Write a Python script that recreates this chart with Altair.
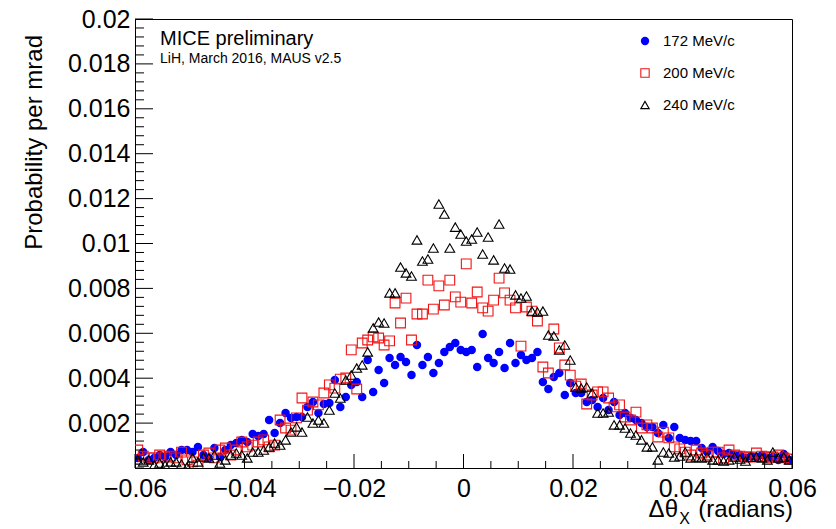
import altair as alt
import numpy as np
import pandas as pd

# bin centres of the 1 mrad histogram bins, -0.06 .. 0.06
x_centers = np.round(np.arange(-0.0595, 0.06, 0.001), 4)

# probability per mrad, in units of 1e-3
p172_e3 = [0.45,0.71,0.36,0.45,0.58,0.49,0.71,0.58,0.80,0.80,
           0.71,0.94,0.58,0.45,0.89,0.49,0.80,1.02,1.11,1.25,
           1.16,1.51,1.43,1.51,2.14,1.56,2.00,2.45,2.23,2.27,
           2.27,2.72,2.94,2.45,2.85,2.90,3.92,2.72,3.16,3.70,
           3.83,3.16,4.81,3.39,4.37,3.79,4.90,4.59,4.94,4.72,
           4.14,5.48,4.59,4.94,4.23,4.68,5.17,5.39,5.57,5.26,
           5.17,5.26,4.50,5.97,4.90,4.68,5.17,4.45,5.57,4.68,
           5.03,4.81,4.90,5.17,3.83,3.52,4.05,4.23,3.25,3.79,
           3.34,3.34,2.94,3.03,2.72,3.12,2.58,2.94,2.36,2.45,
           2.23,2.14,2.00,1.83,1.83,1.56,1.92,1.34,1.83,1.34,
           1.25,1.20,1.20,0.89,0.71,0.94,0.76,0.62,0.67,0.58,
           0.58,0.45,0.53,0.49,0.58,0.45,0.49,0.36,0.62,0.36]

p200_e3 = [0.80,0.53,0.45,0.45,0.58,0.49,0.53,0.45,0.71,0.36,
           0.27,0.13,0.58,0.67,0.45,0.80,0.89,0.58,0.80,1.16,
           0.94,1.02,1.16,1.25,0.94,1.02,2.14,1.78,1.69,2.23,
           3.12,2.58,2.94,2.81,3.34,3.70,3.56,3.96,4.01,5.26,
           3.52,5.57,5.70,5.84,5.79,5.48,5.66,7.35,6.46,7.57,
           5.70,6.86,6.86,8.37,7.08,8.11,7.26,8.37,7.62,7.39,
           9.09,7.35,7.84,7.13,6.99,7.48,8.46,7.80,7.48,7.13,
           5.43,7.17,6.99,6.55,4.50,4.23,6.19,5.35,4.59,4.14,
           3.65,3.74,2.85,3.25,3.39,3.39,3.12,2.72,2.81,2.27,
           2.14,2.49,1.78,1.92,1.78,1.38,1.60,1.34,0.94,0.85,
           0.71,0.58,0.80,0.67,0.58,0.71,0.71,0.45,0.80,0.58,
           0.53,0.49,0.49,0.67,0.53,0.49,0.49,0.58,0.45,0.40]

p240_e3 = [0.36,0.27,0.36,0.13,0.22,0.13,0.27,0.27,0.18,0.04,
           0.45,0.27,0.49,0.45,0.58,0.22,0.36,0.58,0.67,0.58,
           0.45,0.71,0.71,0.80,0.94,1.11,1.02,1.25,1.60,1.83,
           1.60,2.27,2.00,2.14,2.00,2.58,3.34,3.12,3.92,4.14,
           4.45,4.59,5.17,6.24,6.50,6.46,7.80,7.80,8.95,8.69,
           8.55,10.16,9.22,9.31,9.80,11.76,11.31,9.80,10.73,10.42,
           10.11,10.20,10.51,9.53,10.29,9.27,10.87,8.91,8.86,7.71,
           7.57,7.66,6.99,6.95,6.99,5.92,5.88,5.26,5.48,4.81,
           3.61,3.56,3.61,3.34,2.45,2.45,2.49,1.92,1.92,1.78,
           1.56,1.47,1.25,0.94,0.94,0.36,0.71,0.67,0.49,0.53,
           0.71,0.45,0.49,0.45,0.49,0.36,0.36,0.31,0.36,0.49,
           0.40,0.31,0.49,0.49,0.45,0.36,0.71,0.45,0.49,0.36]

series_labels = ["172 MeV/c", "200 MeV/c", "240 MeV/c"]
x_tick_values = [-0.06, -0.04, -0.02, 0.0, 0.02, 0.04, 0.06]
y_tick_values = [0.002, 0.004, 0.006, 0.008, 0.01, 0.012, 0.014, 0.016, 0.018, 0.02]
x_minor_values = [v for v in np.round(np.arange(-0.06, 0.0601, 0.005), 4) if v not in x_tick_values]
y_minor_values = [v for v in np.round(np.arange(0.0, 0.02001, 0.0004), 5) if v not in y_tick_values]

W, H = 657, 449
FONT = "Liberation Sans"

def frame(vals):
    return pd.DataFrame({"x": x_centers, "p": [v * 1e-3 for v in vals]})

xscale = alt.Scale(domain=[-0.06, 0.06], nice=False, zero=False)
yscale = alt.Scale(domain=[0.0, 0.02], nice=False, zero=False)

xaxis = alt.Axis(values=x_tick_values, format=".2~f", labelFontSize=25, labelFont=FONT,
                 labelColor="black", ticks=False, grid=False, title=None, domainColor="black",
                 domainWidth=1, labelPadding=8, labelFlush=False, labelOverlap=False)
yaxis = alt.Axis(values=y_tick_values, format=".3~f", labelFontSize=25, labelFont=FONT,
                 labelColor="black", ticks=False, grid=False, title=None, domainColor="black",
                 domainWidth=1, labelPadding=5, labelFlush=False, labelOverlap=False)

def X(field):
    return alt.X(field, scale=xscale, axis=xaxis)

def Y(field):
    return alt.Y(field, scale=yscale, axis=yaxis)

blue = alt.Chart(frame(p172_e3)).mark_point(
    shape="circle", filled=True, color="#0000ff", size=72, opacity=1, clip=True
).encode(x=X("x:Q"), y=Y("p:Q"))

red = alt.Chart(frame(p200_e3)).mark_point(
    shape="square", filled=False, color="#f01414", size=95, strokeWidth=1.1, opacity=1, clip=True
).encode(x=X("x:Q"), y=Y("p:Q"))

black = alt.Chart(frame(p240_e3)).mark_point(
    shape="triangle-up", filled=False, color="black", size=95, strokeWidth=1.1, opacity=1, clip=True
).encode(x=X("x:Q"), y=Y("p:Q"))

# inward ROOT-style ticks
xt_major = alt.Chart(pd.DataFrame({"x": x_tick_values})).mark_rule(color="black", strokeWidth=1).encode(
    x=X("x:Q"), y=alt.value(H), y2=alt.value(H - 14))
xt_minor = alt.Chart(pd.DataFrame({"x": x_minor_values})).mark_rule(color="black", strokeWidth=1).encode(
    x=X("x:Q"), y=alt.value(H), y2=alt.value(H - 7))
yt_major = alt.Chart(pd.DataFrame({"p": y_tick_values})).mark_rule(color="black", strokeWidth=1).encode(
    y=Y("p:Q"), x=alt.value(0), x2=alt.value(18))
yt_minor = alt.Chart(pd.DataFrame({"p": y_minor_values})).mark_rule(color="black", strokeWidth=1).encode(
    y=Y("p:Q"), x=alt.value(0), x2=alt.value(9))

def label(text, x, y, size, align="left", baseline="alphabetic", angle=0):
    return alt.Chart(pd.DataFrame({"t": [text]})).mark_text(
        font=FONT, fontSize=size, color="black", align=align, baseline=baseline, angle=angle
    ).encode(text="t:N", x=alt.value(x), y=alt.value(y))

texts = [
    label("MICE preliminary", 25, 26, 20),
    label("LiH, March 2016, MAUS v2.5", 25, 44, 14),
    label("Probability per mrad", -93, 16, 24, align="right", angle=270),
    label("(radians)", 658, 498, 24, align="right"),
    label("X", 555, 505, 16, align="right"),
    label("Δθ", 543, 498, 24, align="right"),
]

# legend
leg_y = [22, 54, 86]
legend = [
    alt.Chart(pd.DataFrame({"t": [series_labels[0]]})).mark_point(
        shape="circle", filled=True, color="#0000ff", size=70, opacity=1
    ).encode(x=alt.value(510), y=alt.value(leg_y[0])),
    alt.Chart(pd.DataFrame({"t": [series_labels[1]]})).mark_point(
        shape="square", filled=False, color="#f01414", size=70, strokeWidth=1.1, opacity=1
    ).encode(x=alt.value(510), y=alt.value(leg_y[1])),
    alt.Chart(pd.DataFrame({"t": [series_labels[2]]})).mark_point(
        shape="triangle-up", filled=False, color="black", size=70, strokeWidth=1.1, opacity=1
    ).encode(x=alt.value(510), y=alt.value(leg_y[2])),
]
for lab, yy in zip(series_labels, leg_y):
    legend.append(label(lab, 528, yy, 15, baseline="middle"))

chart = alt.layer(
    blue, red, black, xt_major, xt_minor, yt_major, yt_minor, *texts, *legend
).properties(
    width=W, height=H,
    autosize=alt.AutoSizeParams(type="none"),
    padding={"left": 127, "top": 11, "right": 36, "bottom": 61},
    background="white",
).configure_view(stroke="black", strokeWidth=1)

chart.save("out.html", embed_options={"renderer": "svg", "actions": False})
